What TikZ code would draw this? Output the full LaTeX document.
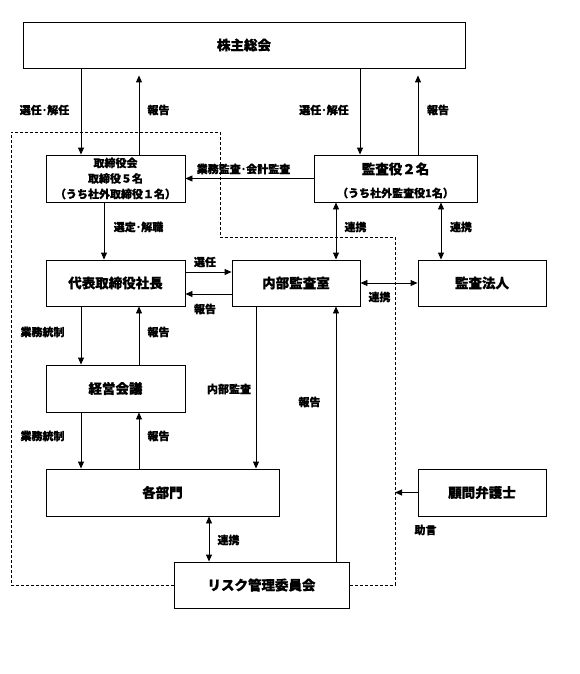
\documentclass[tikz,border=0pt]{standalone}
\usepackage{fontspec}
\setmainfont{Noto Sans CJK JP}[FakeBold=0.8]
\usetikzlibrary{arrows.meta}
\tikzset{
  box/.style={draw, line width=0.9pt, inner sep=0pt, align=center, font=\bfseries\fontsize{13.5}{16}\selectfont},
  lbl/.style={inner sep=0pt, font=\bfseries\fontsize{11}{13}\selectfont},
  arr/.style={line width=0.9pt, -{Triangle[length=7pt,width=6pt]}},
  darr/.style={line width=0.9pt, {Triangle[length=7pt,width=6pt]}-{Triangle[length=7pt,width=6pt]}},
  frame/.style={line width=0.6pt, dash pattern=on 3pt off 2pt},
}
\begin{document}
\begin{tikzpicture}[x=1pt,y=-1pt]
\useasboundingbox (0,0) rectangle (580,674);
\fill[white] (0,0) rectangle (580,674);
% boxes
\node[box, minimum width=442pt, minimum height=46pt] (soukai) at (244,45) {株主総会};
\node[box, minimum width=139pt, minimum height=47pt, font=\bfseries\fontsize{11}{15.5}\selectfont] (tori) at (115.5,178.5) {取締役会\\取締役５名\\（うち社外取締役１名）};
\node[box, minimum width=163pt, minimum height=47pt] (kansa) at (395.5,178.5) {};
\node[inner sep=0pt, font=\bfseries\fontsize{13.5}{16}\selectfont] (kansaA) at (395.5,169) {監査役２名};
\node[lbl] (kansaB) at (395.5,193) {（うち社外監査役1名）};
\node[box, minimum width=139pt, minimum height=46pt] (daihyo) at (115.5,283) {代表取締役社長};
\node[box, minimum width=128pt, minimum height=46pt] (naibu) at (296,283) {内部監査室};
\node[box, minimum width=128pt, minimum height=46pt] (hojin) at (482,283) {監査法人};
\node[box, minimum width=139pt, minimum height=47pt] (keiei) at (115.5,388.5) {経営会議};
\node[box, minimum width=233pt, minimum height=47pt] (kakubu) at (162.5,492.5) {各部門};
\node[box, minimum width=128pt, minimum height=47pt] (komon) at (482,492.5) {顧問弁護士};
\node[box, minimum width=175pt, minimum height=46pt] (risk) at (261.5,585) {リスク管理委員会};
% helper coordinates
\coordinate (xA) at (81,0);
\coordinate (xB) at (139,0);
\coordinate (xC) at (360,0);
\coordinate (xD) at (418,0);
\coordinate (xE) at (104,0);
\coordinate (xF) at (336,0);
\coordinate (xG) at (441,0);
\coordinate (xH) at (256,0);
\coordinate (xI) at (209,0);
\coordinate (yA) at (0,272);
\coordinate (yB) at (0,294);
\coordinate (adv) at (395,492.5);
% dashed frame
\draw[frame] (risk.west) -- (11,585) -- (11,132) -- (220,132) -- (220,237) -- (395,237) -- (395,585) -- (risk.east);
% arrows
\draw[arr] (soukai.south -| xA) -- (tori.north -| xA);
\draw[arr, shorten >=7pt] (tori.north -| xB) -- (soukai.south -| xB);
\draw[arr] (soukai.south -| xC) -- (kansa.north -| xC);
\draw[arr, shorten >=7pt] (kansa.north -| xD) -- (soukai.south -| xD);
\draw[arr] (kansa.west) -- (tori.east);
\draw[arr] (tori.south -| xE) -- (daihyo.north -| xE);
\draw[darr] (kansa.south -| xF) -- (naibu.north -| xF);
\draw[darr] (kansa.south -| xG) -- (hojin.north -| xG);
\draw[arr] (daihyo.east |- yA) -- (naibu.west |- yA);
\draw[arr] (naibu.west |- yB) -- (daihyo.east |- yB);
\draw[darr] (naibu.east) -- (hojin.west);
\draw[arr] (daihyo.south -| xA) -- (keiei.north -| xA);
\draw[arr] (keiei.north -| xB) -- (daihyo.south -| xB);
\draw[arr] (keiei.south -| xA) -- (kakubu.north -| xA);
\draw[arr] (kakubu.north -| xB) -- (keiei.south -| xB);
\draw[arr] (naibu.south -| xH) -- (kakubu.north -| xH);
\draw[arr] (risk.north -| xF) -- (naibu.south -| xF);
\draw[darr] (kakubu.south -| xI) -- (risk.north -| xI);
\draw[arr] (komon.west) -- (adv);
% labels
\node[lbl] (l1) at (44.5,110) {選任･解任};
\node[lbl] (l2) at (158.5,110) {報告};
\node[lbl] (l3) at (324,110) {選任･解任};
\node[lbl] (l4) at (438,110) {報告};
\node[lbl] (l5) at (243.5,169) {業務監査･会計監査};
\node[lbl] (l6) at (138.5,227) {選定･解職};
\node[lbl] (l7) at (355.5,227) {連携};
\node[lbl] (l8) at (461,227) {連携};
\node[lbl] (l9) at (205,262) {選任};
\node[lbl] (l10) at (205,309) {報告};
\node[lbl] (l11) at (379.5,297) {連携};
\node[lbl] (l12) at (42.5,332) {業務統制};
\node[lbl] (l13) at (158.5,332) {報告};
\node[lbl] (l14) at (229,389) {内部監査};
\node[lbl] (l15) at (309.5,402) {報告};
\node[lbl] (l16) at (42.5,436) {業務統制};
\node[lbl] (l17) at (158.5,436) {報告};
\node[lbl] (l18) at (425.5,530) {助言};
\node[lbl] (l19) at (228.5,540) {連携};
\end{tikzpicture}
\end{document}
